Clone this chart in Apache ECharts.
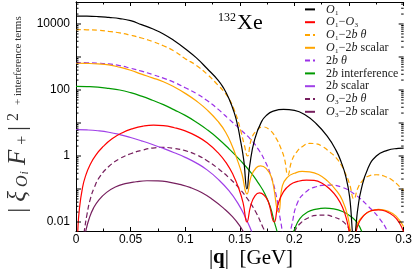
<!DOCTYPE html>
<html><head><meta charset="utf-8">
<script src="https://cdn.jsdelivr.net/npm/echarts@6/dist/echarts.min.js"></script>
<style>html,body{margin:0;padding:0;background:#fff}#c{width:415px;height:275px}</style>
</head><body><div id="c"></div>
<script>
// ---- data ----
const xTickLabels = ['0','0.05','0.1','0.15','0.2','0.25','0.3'];
const yTickLabels = ['0.01','1','100','10000'];
const seriesNames = ['O₁','O₁−O₃','O₁−2b θ','O₁−2b scalar','2b θ','2b interference','2b scalar','O₃−2b θ','O₃−2b scalar'];

const qO1 = [0,0.01,0.02,0.03,0.04,0.05,0.06,0.07,0.08,0.09,0.10,0.11,0.12,0.13,0.135,0.14,0.145,0.148,0.150,0.1535,0.1565,0.159,0.1636,0.170,0.175,0.18,0.19,0.20,0.21,0.22,0.23,0.238,0.243,0.247,0.2505,0.2545,0.258,0.261,0.267,0.275,0.285,0.295,0.300];
const vO1 = [17400,17300,16800,15800,14600,12600,9550,7160,5010,3090,1780,955,447,200,117,55,20,8.3,3.8,0.79,0.1,0.5,3.2,11.2,17.8,22.4,25.7,24,17.4,9.5,4.0,1.51,0.63,0.24,0.059,0.003,0.025,0.093,0.4,1.0,1.48,1.7,1.74];

const qO1O3 = [0.0008,0.0016,0.003,0.006,0.009,0.013,0.018,0.025,0.033,0.042,0.052,0.062,0.071,0.08,0.09,0.10,0.11,0.12,0.13,0.138,0.144,0.149,0.153,0.1565,0.160,0.164,0.168,0.172,0.176,0.1815,0.185,0.19,0.196,0.203,0.211,0.218,0.226,0.233,0.239,0.244,0.248,0.2535,0.258,0.263,0.27,0.277,0.284,0.291,0.296,0.300];
const vO1O3 = [0.001,0.005,0.023,0.112,0.263,0.55,1.05,1.95,3.31,5.0,6.76,8.1,8.6,8.3,7.2,5.75,4.07,2.51,1.26,0.59,0.263,0.105,0.038,0.01,0.032,0.063,0.076,0.066,0.042,0.01,0.035,0.083,0.135,0.17,0.186,0.182,0.145,0.095,0.056,0.028,0.0112,0.002,0.0079,0.0151,0.0219,0.0234,0.0209,0.0151,0.0095,0.005];

const qO12bTheta = [0,0.01,0.02,0.03,0.04,0.05,0.06,0.07,0.08,0.09,0.10,0.11,0.12,0.13,0.135,0.14,0.145,0.148,0.151,0.154,0.157,0.1605,0.165,0.171,0.177,0.183,0.188,0.191,0.194,0.1975,0.2016,0.207,0.214,0.22,0.226,0.232,0.238,0.243,0.247,0.2505,0.2545,0.258,0.262,0.267,0.275,0.283,0.29,0.296,0.300];
const vO12bTheta = [6760,6680,6460,5960,5370,4570,3760,2950,2190,1510,891,562,302,141,93,55,24.5,12.6,5.6,2.24,1.0,3.16,5.75,7.6,6.3,3.55,1.58,0.79,0.263,0.71,1.26,1.9,2.4,2.34,1.9,1.35,0.89,0.525,0.28,0.141,0.05,0.105,0.174,0.24,0.27,0.24,0.182,0.12,0.089];

const qO12bScalar = [0,0.01,0.02,0.03,0.04,0.05,0.06,0.07,0.08,0.09,0.10,0.11,0.12,0.13,0.137,0.143,0.148,0.152,0.1565,0.1605,0.165,0.169,0.174,0.179,0.1855,0.189,0.194,0.2,0.207,0.214,0.222,0.23,0.238,0.244,0.249,0.2535,0.257,0.261,0.268,0.277,0.286,0.293,0.300];
const vO12bScalar = [646,638,617,575,490,398,302,234,178,123,79,47,25,11.2,5.25,2.0,0.71,0.28,0.071,0.25,0.44,0.5,0.42,0.224,0.02,0.126,0.234,0.30,0.34,0.33,0.275,0.178,0.093,0.045,0.014,0.002,0.0079,0.0132,0.02,0.024,0.021,0.015,0.0072];

const q2bTheta = [0,0.01,0.02,0.03,0.04,0.05,0.06,0.07,0.08,0.09,0.10,0.11,0.12,0.13,0.14,0.15,0.16,0.167,0.173,0.178,0.183,0.1875,0.1925,0.1975,0.2026,0.210,0.219,0.2315,0.2438,0.256,0.268,0.277,0.285,0.290,0.300];
const v2bTheta = [676,668,653,617,550,457,372,295,229,170,117,79,48,26.3,13.2,6.6,3.16,1.58,0.71,0.28,0.071,0.01,0.0015,0.0079,0.037,0.079,0.115,0.132,0.112,0.066,0.029,0.0138,0.0054,0.002,0.001];

const q2bInterf = [0,0.01,0.02,0.03,0.04,0.05,0.06,0.07,0.08,0.09,0.10,0.11,0.12,0.13,0.14,0.15,0.16,0.167,0.173,0.178,0.1825,0.1915,0.1995,0.205,0.212,0.22,0.228,0.236,0.244,0.252,0.258,0.263,0.270];
const v2bInterf = [129,127,122,112,100,83,65,49,36,25,17,10.7,6.3,3.4,1.66,0.76,0.32,0.15,0.071,0.028,0.0079,0.0012,0.0054,0.0126,0.02,0.0245,0.0263,0.0251,0.0209,0.0145,0.0089,0.004,0.0012];

const q2bScalar = [0,0.01,0.02,0.03,0.04,0.05,0.06,0.07,0.08,0.09,0.10,0.11,0.12,0.13,0.14,0.148,0.155,0.161,0.166,0.172];
const v2bScalar = [6.3,6.17,5.82,5.25,4.47,3.63,2.88,2.24,1.7,1.26,0.91,0.62,0.38,0.2,0.089,0.038,0.014,0.005,0.002,0.001];

const qO32bTheta = [0.005,0.0076,0.01,0.013,0.017,0.022,0.03,0.04,0.05,0.06,0.07,0.08,0.09,0.10,0.11,0.12,0.13,0.14,0.15,0.158,0.165,0.171,0.176,0.182,0.188,0.195,0.2005,0.206,0.213,0.22,0.228,0.236,0.243,0.249,0.2525,0.256,0.260];
const vO32bTheta = [0.0015,0.0054,0.0166,0.048,0.117,0.24,0.48,0.83,1.17,1.48,1.74,1.82,1.7,1.45,1.1,0.72,0.42,0.22,0.1,0.045,0.019,0.0071,0.0035,0.0018,0.001,0.0018,0.0054,0.0095,0.0135,0.0158,0.0162,0.0141,0.0112,0.0071,0.0045,0.002,0.001];

const qO32bScalar = [0.006,0.009,0.012,0.016,0.021,0.028,0.036,0.045,0.055,0.065,0.075,0.085,0.095,0.105,0.115,0.125,0.135,0.143,0.15,0.156,0.162,0.168];
const vO32bScalar = [0.0015,0.0054,0.0126,0.0263,0.047,0.079,0.115,0.145,0.166,0.178,0.176,0.162,0.138,0.11,0.078,0.048,0.0263,0.0148,0.0076,0.0035,0.0018,0.001];

// ---- styles ----
const allQ = [qO1,qO1O3,qO12bTheta,qO12bScalar,q2bTheta,q2bInterf,q2bScalar,qO32bTheta,qO32bScalar];
const allV = [vO1,vO1O3,vO12bTheta,vO12bScalar,v2bTheta,v2bInterf,v2bScalar,vO32bTheta,vO32bScalar];
const colors = ['#000000','#ff0000','#ffa500','#ffa500','#9b30e8','#009a00','#a040e8','#761f5e','#761f5e'];
const dashed = [false,false,true,false,true,false,false,true,false];

// build points; local minima (cusps) are repeated so the smoothed line keeps a sharp V there
function buildData(q, v){
  const out = [];
  for (let k=0;k<q.length;k++){
    out.push([q[k], v[k]]);
    if (k>0 && k<q.length-1 && v[k]<v[k-1] && v[k]<v[k+1]) out.push([q[k], v[k]]);
  }
  return out;
}

const series = seriesNames.map((name,i)=>({
  name, type:'line', showSymbol:false, symbol:'none', smooth:0.5,
  xAxisIndex:0, yAxisIndex:0, clip:true, z: 10-i,
  lineStyle:{color:colors[i], width:1.2, type: dashed[i]?[5,3]:'solid'},
  itemStyle:{color:colors[i]},
  data: buildData(allQ[i], allV[i])
}));

// log-axis tick positions (decades and 2..9 minors), drawn through the y scale
const logTicks = [];
for (let e=-2;e<=4;e++) for (let m=1;m<=9;m++) { const v = m*Math.pow(10,e); if (v>=0.00534 && v<=46400) logTicks.push([0, v, m]); }
series.push({
  type:'custom', xAxisIndex:0, yAxisIndex:0, silent:true, z:20, clip:false,
  encode:{x:0, y:1},
  data: logTicks,
  renderItem:(params, api)=>{
    const v = api.value(1), m = api.value(2);
    const pl = api.coord([0, v]), pr = api.coord([0.3, v]);
    const len = m===1 ? 5 : 2.5;
    return {type:'group', children:[
      {type:'line', shape:{x1:pl[0], y1:pl[1], x2:pl[0]+len, y2:pl[1]}, style:{stroke:'#000', lineWidth:1, fill:null}},
      {type:'line', shape:{x1:pr[0], y1:pr[1], x2:pr[0]-len, y2:pr[1]}, style:{stroke:'#000', lineWidth:1, fill:null}}
    ]};
  }
});

const serif = 'Liberation Serif';
const chart = echarts.init(document.getElementById('c'), null, {renderer:'canvas'});
function xFmt(v){ const i = Math.round(v/0.05); return (Math.abs(v-i*0.05)<1e-9 && xTickLabels[i]!==undefined) ? xTickLabels[i] : ''; }
function yFmt(v){ const e = Math.round(Math.log10(v)); if (Math.abs(Math.log10(v)-e)>1e-6) return ''; const idx = (e+2)/2; return (Number.isInteger(idx) && yTickLabels[idx]!==undefined)? yTickLabels[idx] : ''; }
const commonX = {type:'value', min:0, max:0.3, interval:0.05, splitLine:{show:false},
  axisLine:{lineStyle:{color:'#000', width:1}},
  axisTick:{inside:true, length:4, lineStyle:{color:'#000'}},
  minorTick:{show:true, splitNumber:2, length:2.5, lineStyle:{color:'#000'}}};
const commonY = {type:'log', logBase:10, min:0.00534, max:46400, splitNumber:4, splitLine:{show:false},
  axisLine:{lineStyle:{color:'#000', width:1}},
  axisTick:{show:false}, minorTick:{show:false}};

chart.setOption({
  animation:false,
  grid:{left:76, right:11, top:2, bottom:44},
  xAxis:[
    Object.assign({}, commonX, {position:'bottom', axisLabel:{formatter:xFmt, fontSize:12, color:'#000', fontFamily:'Liberation Sans', margin:3}}),
    Object.assign({}, commonX, {position:'top', axisLabel:{show:false}})
  ],
  yAxis:[
    Object.assign({}, commonY, {position:'left', axisLabel:{formatter:yFmt, fontSize:12, color:'#000', fontFamily:'Liberation Sans', margin:6, showMinLabel:false, showMaxLabel:false}}),
    Object.assign({}, commonY, {position:'right', axisLabel:{show:false}})
  ],
  legend:{orient:'vertical', left:299, top:-2, itemWidth:10, itemHeight:1, itemGap:0,
    itemStyle:{opacity:0},
    textStyle:{fontFamily:serif, fontSize:12, color:'#222', lineHeight:12.8, padding:[0,0,0,6],
      rich:{m:{fontFamily:serif, fontStyle:'italic', fontSize:12, color:'#222'}}},
    formatter:n=>n.replace(/O([₁₃])/g,'{m|O}$1').replace(/2b/g,'2{m|b}').replace(/θ/g,'{m|θ}'),
    data:seriesNames},
  graphic:[
    {type:'text', x:218, y:23, style:{text:'{s|132}{b|Xe}', verticalAlign:'middle',
      rich:{s:{fontFamily:serif, fontSize:12, verticalAlign:'top', padding:[0,1,8,0]}, b:{fontFamily:serif, fontSize:22}}}},
    {type:'text', x:251, y:258, style:{text:'{a||}{q|q}{a||  [GeV]}', align:'center', verticalAlign:'middle',
      rich:{a:{fontFamily:serif, fontSize:21, fill:'#000'}, q:{fontFamily:serif, fontSize:21, fontWeight:'bold'}}}},
    {type:'text', x:18, y:116, rotation:Math.PI/2, style:{align:'center', verticalAlign:'middle',
      text:'{b||}{g|ξ}{s|O}{ss|i}{g|F}{s|+}{b||}{sup|2}{t|+ interference terms}',
      rich:{b:{fontFamily:serif, fontSize:25, fill:'#333', padding:[0,3,0,3]}, g:{fontFamily:serif, fontStyle:'italic', fontSize:25, fill:'#333', padding:[0,3,0,3]},
        s:{fontFamily:serif, fontStyle:'italic', fontSize:16, verticalAlign:'bottom', fill:'#333', padding:[0,1,0,1]},
        ss:{fontFamily:serif, fontStyle:'italic', fontSize:12, verticalAlign:'bottom', fill:'#333', padding:[0,3,0,0]},
        sup:{fontFamily:serif, fontSize:16, verticalAlign:'top', fill:'#333', padding:[0,8,0,2]},
        t:{fontFamily:serif, fontSize:11, fill:'#333'}}}}
  ],
  series
});
</script></body></html>
